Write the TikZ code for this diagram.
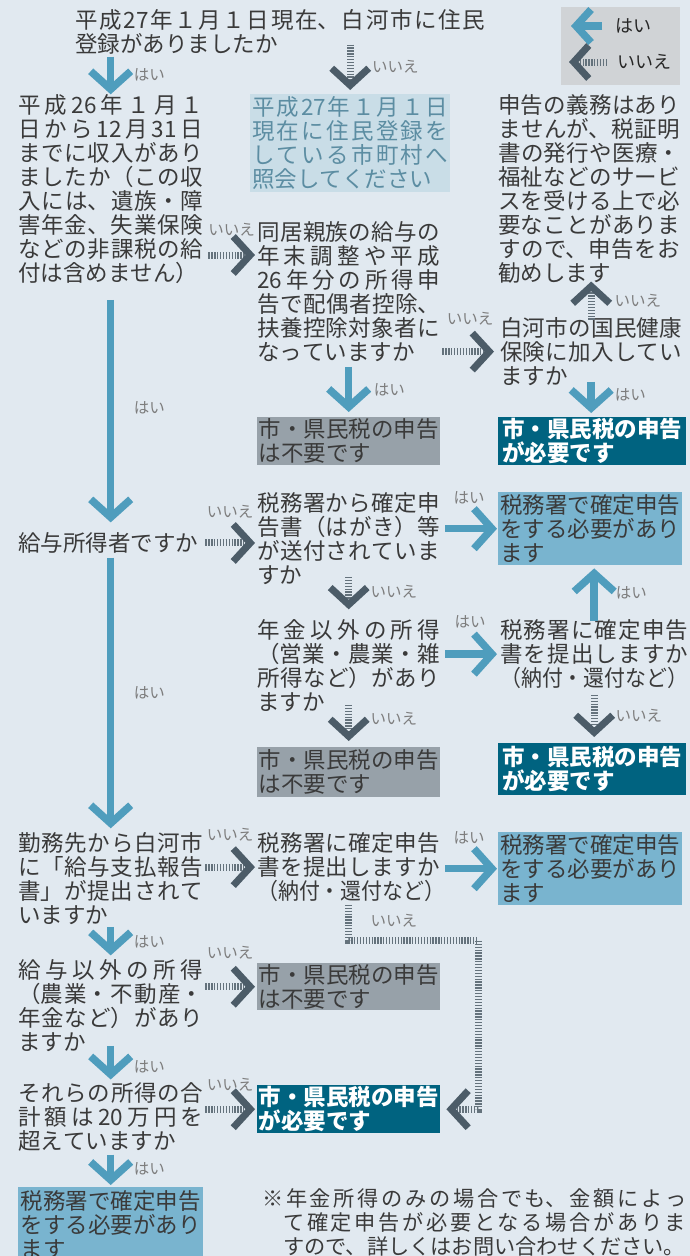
\documentclass[tikz,border=0pt]{standalone}
\usepackage{fontspec}
\usepackage{graphicx}
\setmainfont{Noto Sans CJK JP}
\usetikzlibrary{arrows.meta,calc}
\XeTeXlinebreaklocale "ja"
\XeTeXlinebreakskip=0pt plus 4pt
\tolerance=10000
\hbadness=10000

\definecolor{bg}{RGB}{225,233,240}
\definecolor{txt}{RGB}{58,58,58}
\definecolor{lbltxt}{RGB}{125,125,125}
\definecolor{yescol}{RGB}{79,157,189}
\definecolor{nocol}{RGB}{76,92,104}
\definecolor{nodash}{RGB}{100,114,124}
\definecolor{dkbox}{RGB}{0,99,128}
\definecolor{ltbox}{RGB}{121,180,207}
\definecolor{grbox}{RGB}{151,161,169}
\definecolor{infobox}{RGB}{201,221,231}
\definecolor{infotxt}{RGB}{92,141,162}
\definecolor{lgbox}{RGB}{208,211,214}

\newcommand\qsize{\fontsize{22.5}{24}\selectfont}
\newcommand\lsize{\fontsize{15.5}{17}\selectfont}
\newcommand\nsize{\fontsize{21.2}{24}\selectfont}
\newcommand\kakko[1]{\scalebox{0.93}[1]{（#1）}}

\tikzset{every node/.append style={inner sep=0pt, text=txt}}
\tikzset{
  ques/.style={anchor=base west, font=\qsize, align=justify, text width=#1},
  ques/.default=183pt,
  res/.style={anchor=north west, font=\qsize, align=left, minimum width=#1, inner xsep=1pt},
  need/.style={res=#1, fill=dkbox, text=white, font=\qsize\bfseries},
  noneed/.style={res=#1, fill=grbox},
  taxbox/.style={res=#1, fill=ltbox},
  lbl/.style={font=\lsize, text=lbltxt},
  yes/.style={draw=yescol, line width=7.5pt, -{Straight Barb[length=18pt, width=40pt, sharp]}},
  no/.style={draw=nodash, line width=7pt, dash pattern=on 1.3pt off 1.6pt,
    -{Straight Barb[length=17pt, width=37pt, sharp, color=nocol]}},
  lgyesarr/.style={yes, -{Straight Barb[length=15pt, width=33pt, sharp]}},
  lgnoarr/.style={no, -{Straight Barb[length=15pt, width=33pt, sharp, color=nocol]}}
}

\begin{document}
\begin{tikzpicture}[x=1pt, y=-1pt]
  \useasboundingbox[fill=bg] (0,0) rectangle (690,1256);

  % legend
  \node[fill=lgbox, anchor=north west, minimum width=119pt, minimum height=78pt] (legend) at (561,7) {};
  \node[anchor=west, font=\fontsize{18}{20}\selectfont, text=black!85] (lgyes) at (615,26) {はい};
  \node[anchor=west, font=\fontsize{18}{20}\selectfont, text=black!85] (lgno) at (617,62) {いいえ};
  \draw[lgyesarr] ([xshift=-13pt]lgyes.west) -- ([xshift=-44pt]lgyes.west);
  \draw[lgnoarr] ([xshift=-10pt]lgno.west) -- ([xshift=-48pt]lgno.west);

  % questions and answers
  \node[ques=410pt] (qreg) at (75,28.5) {平成27年１月１日現在、白河市に住民\linebreak 登録がありましたか};
  \node[ques=185pt] (qinc) at (18,113.5) {平成26年１月１\linebreak 日から12月31日\linebreak までに収入があり\linebreak ましたか（この収\linebreak 入には、遺族・障\linebreak 害年金、失業保険\linebreak などの非課税の給\linebreak 付は含めません）};
  \node[anchor=north west, fill=infobox, text=infotxt, font=\qsize, minimum height=98pt,
    text width=196pt, inner xsep=2pt, align=justify] (ask) at (250,94)
    {\parfillskip=0pt 平成27年１月１日\linebreak 現在に住民登録を\linebreak している市町村へ\linebreak 照会してください};
  \node[ques=182pt] (duty) at (498,113.5) {申告の義務はあり\linebreak ませんが、税証明\linebreak 書の発行や医療・\linebreak 福祉などのサービ\linebreak スを受ける上で必\linebreak 要なことがありま\linebreak すので、申告をお\linebreak 勧めします};
  \node[ques] (qfam) at (257,240.5) {同居親族の給与の\linebreak 年末調整や平成\linebreak 26年分の所得申\linebreak 告で配偶者控除、\linebreak 扶養控除対象者に\linebreak なっていますか};
  \node[ques=182pt] (qnhi) at (500,336.5) {白河市の国民健康\linebreak 保険に加入してい\linebreak ますか};
  \node[noneed=183pt, minimum height=48pt] (free1) at (257,417) {市・県民税の申告\\は不要です};
  \node[need=188pt, minimum height=48pt] (must1) at (498,417) {市・県民税の申告\\が必要です};

  \node[ques=185pt] (qsal) at (18,551.5) {給与所得者ですか};
  \node[ques] (qpost) at (257,511.5) {税務署から確定申\linebreak 告書（はがき）等\linebreak が送付されていま\linebreak すか};
  \node[taxbox=184pt, minimum height=73pt] (tax1) at (498,492) {税務署で確定申告\\をする必要があり\\ます};
  \node[ques] (qbiz) at (257,638.5) {年金以外の所得\linebreak （営業・農業・雑\linebreak 所得など）があり\linebreak ますか};
  \node[ques=188pt] (qfile) at (500,638.5) {税務署に確定申告\linebreak 書を提出しますか\linebreak \kakko{納付・還付など}};
  \node[noneed=183pt, minimum height=50pt] (free2) at (257,747) {市・県民税の申告\\は不要です};
  \node[need=188pt, minimum height=52pt] (must2) at (498,743) {市・県民税の申告\\が必要です};

  \node[ques=185pt] (qrep) at (18,851.5) {勤務先から白河市\linebreak に「給与支払報告\linebreak 書」が提出されて\linebreak いますか};
  \node[ques] (qfile2) at (257,851.5) {税務署に確定申告\linebreak 書を提出しますか\linebreak \kakko{納付・還付など}};
  \node[taxbox=184pt, minimum height=73pt] (tax2) at (498,832) {税務署で確定申告\\をする必要があり\\ます};
  \node[ques=185pt] (qoth) at (18,978.5) {給与以外の所得\linebreak （農業・不動産・\linebreak 年金など）があり\linebreak ますか};
  \node[noneed=183pt, minimum height=47pt] (free3) at (257,963) {市・県民税の申告\\は不要です};
  \node[ques=185pt] (qsum) at (18,1101.5) {それらの所得の合\linebreak 計額は20万円を\linebreak 超えていますか};
  \node[need=183pt, minimum height=48pt] (must3) at (257,1085) {市・県民税の申告\\が必要です};
  \node[taxbox=185pt, minimum height=75pt] (tax3) at (18,1187) {税務署で確定申告\\をする必要があり\\ます};
  \node[anchor=base west, font=\nsize, text width=424pt, align=justify] (memo) at (262,1206.5)
    {※年金所得のみの場合でも、金額によっ\linebreak \hspace*{21pt}て確定申告が必要となる場合がありま\linebreak \hspace*{21pt}すので、詳しくはお問い合わせください。};

  % left column
  \draw[yes, shorten <=2pt] (qreg.south -| qinc.north) -- node[lbl, right=19.5pt] (l1) {はい} (qinc.north);
  \draw[yes, shorten <=16pt, shorten >=10pt] (qinc.south) -- node[lbl, right=19.5pt] (l2) {はい} (qsal.north);
  \draw[yes, shorten <=4pt, shorten >=4pt] (qsal.south) -- node[lbl, right=19.5pt] (l3) {はい} (qrep.north);
  \draw[yes, shorten <=2pt, shorten >=4pt] (qrep.south) -- node[lbl, right=19.5pt] (l4) {はい} (qoth.north);
  \draw[yes, shorten <=-6pt, shorten >=3pt] (qoth.south) -- node[lbl, right=19.5pt] (l5) {はい} (qsum.north);
  \draw[yes, shorten <=3pt, shorten >=2pt] (qsum.south) -- node[lbl, right=19.5pt] (l6) {はい} (tax3.north);

  % middle column
  \draw[no, shorten <=-10pt, shorten >=4pt] (qreg.south -| ask.north) -- node[lbl, pos=0.3, right=18.5pt] (l7) {いいえ} (ask.north);
  \draw[yes, shorten <=5pt, shorten >=5pt] (qfam.south) -- node[lbl, right=21.5pt] (l8) {はい} (free1.north);
  \draw[no, shorten <=-8pt, shorten >=10pt] (qpost.south) -- node[lbl, pos=0.2, right=18.5pt] (l9) {いいえ} (qbiz.north);
  \draw[no, shorten <=-7pt, shorten >=6pt] (qbiz.south) -- node[lbl, pos=0.2, right=18.5pt] (l10) {いいえ} (free2.north);
  \coordinate (turn) at (478,940);
  \draw[no, shorten <=3pt, shorten >=6pt] (qfile2.south) |- node[lbl, pos=0.25, right=18.5pt] (l11) {いいえ} (turn) |- (must3.east);

  % right column
  \draw[no, shorten <=-2.5pt, shorten >=-2pt] (qnhi.north) -- node[lbl, right=20pt] (l12) {いいえ} (qnhi.north |- duty.south);
  \draw[yes, shorten <=-4pt, shorten >=4pt] (qnhi.south) -- node[lbl, pos=0.3, right=20pt] (l13) {はい} (qnhi.south |- must1.north);
  \draw[yes, shorten <=-1.5pt, shorten >=3pt] (qfile.north) -- node[lbl, right=18pt] (l14) {はい} (qfile.north |- tax1.south);
  \draw[no, shorten <=6pt, shorten >=6pt] (qfile.south) -- node[lbl, right=18pt] (l15) {いいえ} (qfile.south |- must2.north);

  % across
  \draw[no] ($(qinc.east |- qfam.base west)+(5,14.5)$) -- node[lbl, above=15pt] (l16) {いいえ} ($(qfam.base west)+(-2,14.5)$);
  \draw[no, shorten <=2pt, shorten >=6pt] (qnhi.west -| qfam.east) -- node[lbl, above=23pt] (l17) {いいえ} (qnhi.west);
  \draw[no, shorten <=2pt, shorten >=2pt] (qsal.east) -- node[lbl, above=21pt] (l18) {いいえ} (qsal.east -| qpost.west);
  \draw[yes, shorten <=5pt, shorten >=1pt] (tax1.west -| qpost.east) -- node[lbl, above=21pt] (l19) {はい} (tax1.west);
  \draw[yes, shorten <=5pt, shorten >=3pt] (qfile.west -| qbiz.east) -- node[lbl, above=22pt] (l20) {はい} (qfile.west);
  \draw[no, shorten <=2pt, shorten >=2pt] (qfile2.west -| qrep.east) -- node[lbl, above=22pt] (l21) {いいえ} (qfile2.west);
  \draw[yes, shorten <=5pt, shorten >=1pt] (tax2.west -| qfile2.east) -- node[lbl, above=21pt] (l22) {はい} (tax2.west);
  \draw[no, shorten <=2pt, shorten >=2pt] (free3.west -| qoth.east) -- node[lbl, above=24pt] (l23) {いいえ} (free3.west);
  \draw[no, shorten <=2pt, shorten >=2pt] (must3.west -| qsum.east) -- node[lbl, above=15pt] (l24) {いいえ} (must3.west);
\end{tikzpicture}
\end{document}
